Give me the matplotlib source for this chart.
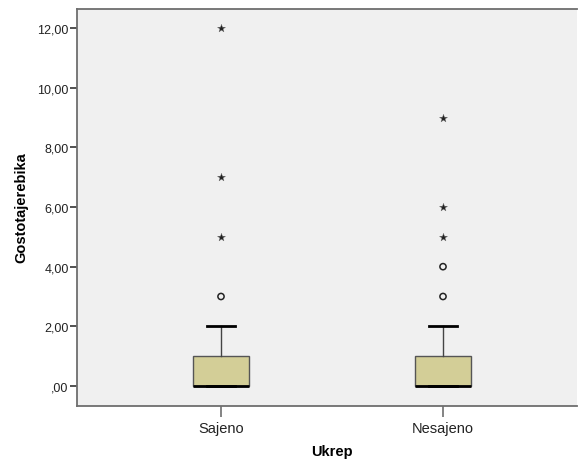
import matplotlib
matplotlib.use("Agg")
import matplotlib.pyplot as plt
import matplotlib.ticker as mticker

# categories and box statistics
groups = ["Sajeno", "Nesajeno"]
q1 = [0.0, 0.0]
median = [0.0, 0.0]
q3 = [1.0, 1.0]
whisk_lo = [0.0, 0.0]
whisk_hi = [2.0, 2.0]

# outliers (circles) and extreme values (stars)
outliers = [[3.0], [3.0, 4.0]]
extremes = [[5.0, 7.0, 12.0], [5.0, 6.0, 9.0]]

yticks = [0, 2, 4, 6, 8, 10, 12]

plt.rcParams['font.family'] = ['Liberation Sans', 'DejaVu Sans']

fig = plt.figure(figsize=(5.78, 4.64), dpi=100)
ax = fig.add_axes([77/578, 1 - 406.5/464, 500/578, 397/464])
ax.set_facecolor('#f0f0f0')

stats = []
for i in range(len(groups)):
    stats.append({'label': groups[i], 'q1': q1[i], 'med': median[i], 'q3': q3[i],
                  'whislo': whisk_lo[i], 'whishi': whisk_hi[i], 'fliers': []})

pos = [1, 2]
ax.bxp(stats, positions=pos, widths=0.25, capwidths=0.126, patch_artist=True,
       showfliers=False,
       boxprops=dict(facecolor='#d3ce97', edgecolor='#555555', linewidth=1.0),
       medianprops=dict(color='black', linewidth=2.0),
       whiskerprops=dict(color='#444444', linewidth=1.0),
       capprops=dict(color='black', linewidth=2.0))

for i, p in enumerate(pos):
    ax.scatter([p]*len(outliers[i]), outliers[i], marker='o', s=20,
               facecolors='none', edgecolors='#222222', linewidths=1.1, zorder=3)
    ax.scatter([p]*len(extremes[i]), extremes[i], marker='*', s=36,
               color='#222222', edgecolors='#666666', linewidths=0.3, zorder=3)

ax.set_xlim(1 - 144/222, 2 + 134/222)
ax.set_ylim(-0.654, 12.654)
ax.set_yticks(yticks)

def fmt(v, p):
    s = "%.2f" % v
    s = s.replace('.', ',')
    if s.startswith('0'):
        s = s[1:]
    return s
ax.yaxis.set_major_formatter(mticker.FuncFormatter(fmt))
ax.set_xticks(pos)
ax.set_xticklabels(groups)

for side in ['top', 'bottom', 'left']:
    ax.spines[side].set_color('#6e6e6e')
    ax.spines[side].set_linewidth(1.3)
ax.spines['right'].set_visible(False)

ax.tick_params(axis='y', length=5, width=1.2, color='#333333', pad=1,
               labelsize=9, labelcolor='#222222')
ax.tick_params(axis='x', length=8, width=1.2, color='#6e6e6e', pad=3,
               labelsize=10.5, labelcolor='#222222')

ax.set_ylabel("Gostotajerebika", fontsize=10.5, fontweight='bold')
ax.yaxis.set_label_coords(-0.112, 0.5)
ax.yaxis.label.set_va('center')
ax.set_xlabel("Ukrep", fontsize=10.5, fontweight='bold')
ax.xaxis.set_label_coords(0.51, -0.115)
ax.xaxis.label.set_va('center')

plt.savefig('out.png', dpi=100)
